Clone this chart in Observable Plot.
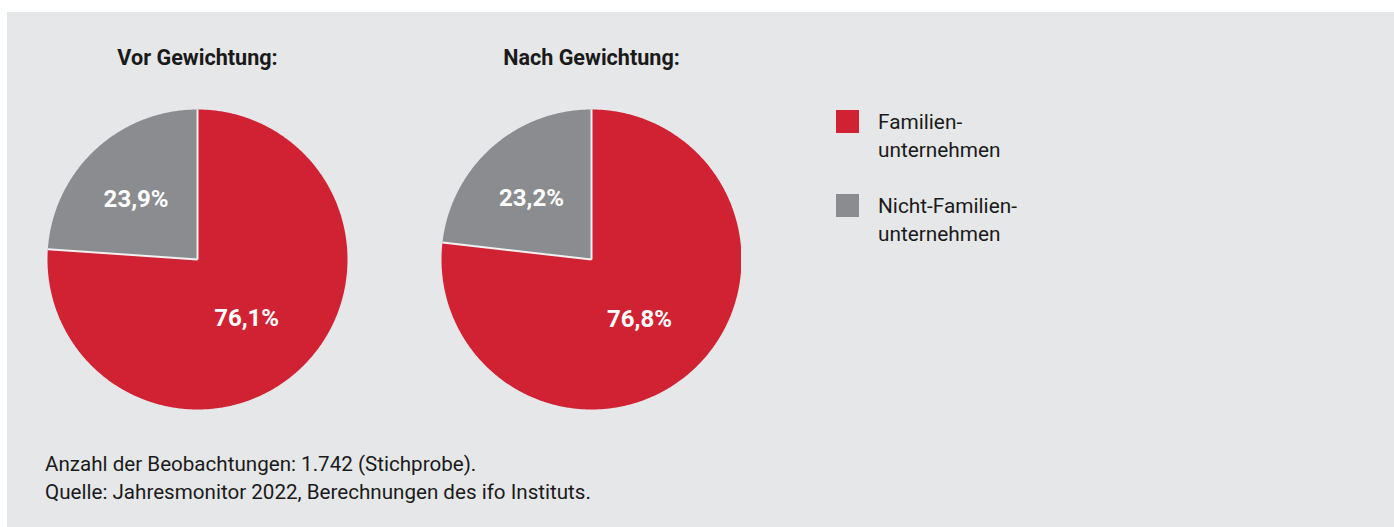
<!DOCTYPE html>
<html>
<head>
<meta charset="utf-8">
<script src="https://cdn.jsdelivr.net/npm/d3@7"></script>
<script src="https://cdn.jsdelivr.net/npm/@observablehq/plot@0.6"></script>
<style>
  html, body { margin: 0; padding: 0; background: #ffffff; }
  body { width: 1394px; height: 527px; position: relative; overflow: hidden; font-family: Roboto, "Liberation Sans", sans-serif; }
  #panel { position: absolute; left: 7px; top: 12px; width: 1387px; height: 515px; background: #e6e7e9; }
  #chart { position: absolute; left: 0; top: 0; }
  #legend { position: absolute; left: 829px; top: 96px; }
  .item { position: relative; height: 84px; }
  .sw { position: absolute; left: 0; top: 2px; width: 23px; height: 23px; }
  .lab { position: absolute; left: 42px; top: 0; font-size: 20.8px; line-height: 28px; color: #1a1a1a; white-space: nowrap; }
  #note { position: absolute; left: 38px; top: 438px; font-size: 20.6px; line-height: 28px; color: #1a1a1a; white-space: nowrap; }
</style>
</head>
<body>
<div id="panel">
  <div id="chart"></div>
  <div id="legend"></div>
  <div id="note"></div>
</div>
<script>
// ---- data ----
const panels = ["Vor Gewichtung:", "Nach Gewichtung:"];
const categories = ["Familienunternehmen", "Nicht-Familienunternehmen"];
const legendLabels = [["Familien-", "unternehmen"], ["Nicht-Familien-", "unternehmen"]];
const familienShare = [76.1, 76.8];
const nichtFamilienShare = [23.9, 23.2];
const colors = ["#d12233", "#8b8c90"];
const labelRadius = [0.48, 0.6];
const notes = [
  "Anzahl der Beobachtungen: 1.742 (Stichprobe).",
  "Quelle: Jahresmonitor 2022, Berechnungen des ifo Instituts."
];

// ---- build slices with d3.pie ----
const fmt = v => v.toFixed(1).replace(".", ",") + "%";
const pie = d3.pie().sort(null).value(d => d.value).startAngle(0).endAngle(2 * Math.PI);
const arcs = [];
panels.forEach((p, i) => {
  const rows = [
    {panel: p, category: categories[0], value: familienShare[i], r: labelRadius[0]},
    {panel: p, category: categories[1], value: nichtFamilienShare[i], r: labelRadius[1]}
  ];
  pie(rows).forEach(a => arcs.push({
    panel: p, category: a.data.category, value: a.data.value, r: a.data.r,
    start: a.startAngle, end: a.endAngle, mid: (a.startAngle + a.endAngle) / 2
  }));
});
const outline = [];
arcs.forEach(a => {
  const key = a.panel + "|" + a.category;
  outline.push({key, panel: a.panel, category: a.category, x: 0, y: 0});
  const n = Math.max(2, Math.ceil((a.end - a.start) / (Math.PI / 360)));
  for (let j = 0; j <= n; j++) {
    const t = a.start + (a.end - a.start) * j / n;
    outline.push({key, panel: a.panel, category: a.category, x: Math.sin(t), y: Math.cos(t)});
  }
  outline.push({key, panel: a.panel, category: a.category, x: 0, y: 0});
});

const chart = Plot.plot({
  width: 734,
  height: 407,
  marginTop: 97,
  marginBottom: 10,
  marginLeft: 40,
  marginRight: 0,
  style: {background: "transparent", fontFamily: "Roboto, 'Liberation Sans', sans-serif"},
  fx: {domain: panels, paddingInner: 0.2386, paddingOuter: 0, round: false, axis: null},
  x: {domain: [-1, 1], axis: null},
  y: {domain: [-1, 1], axis: null},
  color: {domain: categories, range: colors},
  marks: [
    Plot.line(outline, {x: "x", y: "y", z: "key", fill: "category", stroke: "none", fx: "panel", curve: "linear"}),
    Plot.link(arcs, {
      x1: () => 0, y1: () => 0,
      x2: d => Math.sin(d.start), y2: d => Math.cos(d.start),
      stroke: "#f2f2f2", strokeWidth: 2, fx: "panel"
    }),
    Plot.text(arcs, {
      x: d => d.r * Math.sin(d.mid), y: d => d.r * Math.cos(d.mid), dy: 6,
      text: d => fmt(d.value), fill: "white", fontWeight: "bold", fontSize: 24, fx: "panel"
    }),
    Plot.text(panels, {
      fx: d => d, text: d => d, frameAnchor: "top", lineAnchor: "middle", dy: -51,
      fontWeight: "bold", fontSize: 21.6, fill: "#1a1a1a"
    })
  ]
});
document.getElementById("chart").appendChild(chart);

// ---- legend ----
const legend = document.getElementById("legend");
categories.forEach((c, i) => {
  const item = document.createElement("div");
  item.className = "item";
  const sw = document.createElement("div");
  sw.className = "sw";
  sw.style.background = colors[i];
  const lab = document.createElement("div");
  lab.className = "lab";
  lab.innerHTML = legendLabels[i].join("<br>");
  item.appendChild(sw); item.appendChild(lab);
  legend.appendChild(item);
});

// ---- notes ----
document.getElementById("note").innerHTML = notes.join("<br>");
</script>
</body>
</html>
